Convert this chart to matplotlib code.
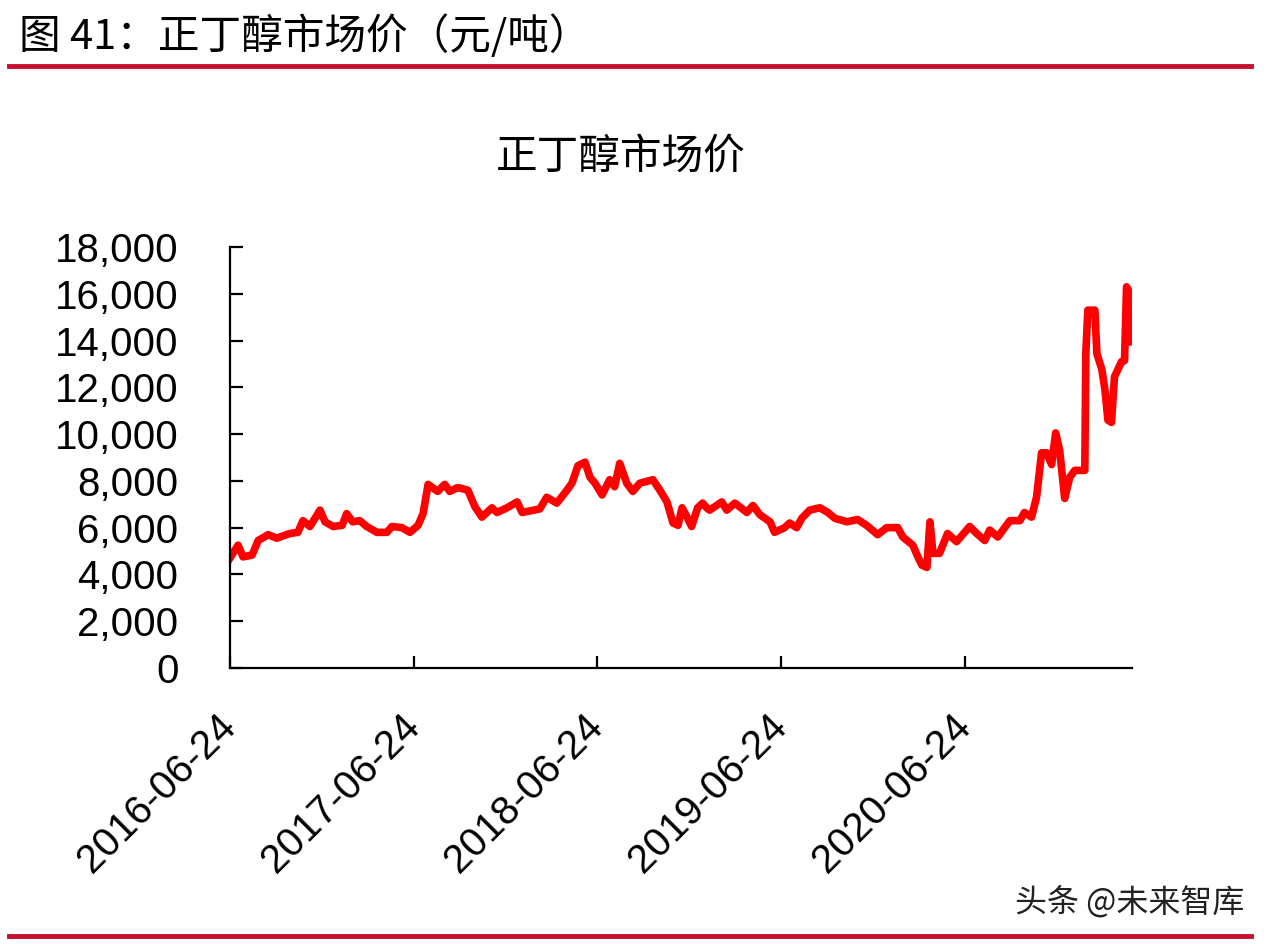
import matplotlib
matplotlib.use('Agg')
import matplotlib.pyplot as plt
import pandas as pd

# 正丁醇市场价 (元/吨)
dates = [
    '2016-06-24', '2016-07-10', '2016-07-20', '2016-08-07', '2016-08-19', '2016-09-08',
    '2016-09-25', '2016-10-21', '2016-11-06', '2016-11-16', '2016-11-30', '2016-12-20',
    '2016-12-30', '2017-01-15', '2017-02-02', '2017-02-11', '2017-02-23', '2017-03-09',
    '2017-03-23', '2017-04-12', '2017-05-02', '2017-05-12', '2017-06-01', '2017-06-17',
    '2017-07-03', '2017-07-13', '2017-07-23', '2017-08-11', '2017-08-25', '2017-09-04',
    '2017-09-18', '2017-09-24', '2017-10-10', '2017-10-24', '2017-11-07', '2017-11-27',
    '2017-12-07', '2017-12-27', '2018-01-16', '2018-01-26', '2018-03-02', '2018-03-16',
    '2018-04-05', '2018-04-25', '2018-05-05', '2018-05-17', '2018-05-31', '2018-06-10',
    '2018-06-20', '2018-07-04', '2018-07-19', '2018-07-29', '2018-08-08', '2018-08-22',
    '2018-09-03', '2018-09-17', '2018-10-13', '2018-10-27', '2018-11-10', '2018-11-22',
    '2018-12-02', '2018-12-10', '2018-12-20', '2018-12-29', '2019-01-10', '2019-01-20',
    '2019-01-28', '2019-02-03', '2019-02-27', '2019-03-09', '2019-03-25', '2019-04-18',
    '2019-04-30', '2019-05-14', '2019-06-03', '2019-06-12', '2019-07-02', '2019-07-12',
    '2019-07-26', '2019-08-05', '2019-08-21', '2019-09-10', '2019-09-26', '2019-10-10',
    '2019-11-03', '2019-11-24', '2019-12-12', '2020-01-03', '2020-01-21', '2020-02-12',
    '2020-02-22', '2020-03-13', '2020-03-23', '2020-03-31', '2020-04-10', '2020-04-16',
    '2020-04-22', '2020-05-05', '2020-05-21', '2020-06-08', '2020-07-04', '2020-07-18',
    '2020-08-03', '2020-08-13', '2020-08-29', '2020-09-22', '2020-10-12', '2020-10-21',
    '2020-11-04', '2020-11-14', '2020-11-24', '2020-12-04', '2020-12-14', '2020-12-22',
    '2020-12-30', '2021-01-09', '2021-01-19', '2021-01-29', '2021-02-18', '2021-02-20',
    '2021-02-24', '2021-03-10', '2021-03-14', '2021-03-24', '2021-03-30', '2021-04-05',
    '2021-04-12', '2021-04-18', '2021-05-02', '2021-05-08', '2021-05-12', '2021-05-18',
    '2021-05-22',
]
prices = [
    4700, 5250, 4750, 4830, 5450, 5700,
    5550, 5750, 5800, 6300, 6050, 6750,
    6250, 6050, 6100, 6600, 6250, 6300,
    6050, 5800, 5800, 6050, 6000, 5800,
    6100, 6600, 7850, 7550, 7850, 7550,
    7700, 7700, 7600, 6900, 6450, 6850,
    6650, 6850, 7100, 6650, 6800, 7300,
    7050, 7600, 7900, 8650, 8800, 8150,
    7900, 7400, 8050, 7750, 8750, 7900,
    7550, 7900, 8050, 7600, 7100, 6200,
    6100, 6850, 6450, 6050, 6850, 7050,
    6850, 6750, 7100, 6750, 7050, 6650,
    6950, 6550, 6250, 5800, 6000, 6200,
    6000, 6400, 6750, 6850, 6650, 6400,
    6250, 6350, 6100, 5700, 6000, 6000,
    5600, 5250, 4750, 4400, 4300, 6250,
    4900, 4900, 5750, 5400, 6050, 5750,
    5450, 5900, 5600, 6300, 6300, 6650,
    6450, 7300, 9200, 9200, 8700, 10050,
    9300, 7250, 8150, 8450, 8450, 13450,
    15300, 15300, 13450, 12750, 11900, 10600,
    10500, 12450, 13100, 13150, 16300, 16050,
    13950,
]
tick_dates = ['2016-06-24', '2017-06-24', '2018-06-24', '2019-06-24', '2020-06-24']
y_ticks = [0, 2000, 4000, 6000, 8000, 10000, 12000, 14000, 16000, 18000]

cjk = ['Noto Sans CJK SC', 'DejaVu Sans']
num_font = ['Liberation Sans', 'DejaVu Sans']

x = pd.to_datetime(dates)
xt = pd.to_datetime(tick_dates)

fig = plt.figure(figsize=(12.7, 9.44), dpi=100)
ax = fig.add_axes([0.1811, 0.2924, 0.891 - 0.1811, 0.7383 - 0.2924])

ax.plot(x, prices, color='#ff0000', linewidth=5.5, solid_joinstyle='round')

ax.set_xlim(xt[0], x[-1])
ax.set_ylim(0, 18000)
ax.set_yticks(y_ticks)
ax.set_yticklabels([f'{v:,}' for v in y_ticks], fontfamily=num_font, fontsize=29)
ax.set_xticks(xt)
ax.set_xticklabels(tick_dates, fontfamily=num_font, fontsize=29,
                   rotation=45, ha='right', va='center', rotation_mode='anchor')

for side in ['top', 'right']:
    ax.spines[side].set_visible(False)
for side in ['left', 'bottom']:
    ax.spines[side].set_linewidth(1.6)
ax.tick_params(axis='both', direction='in', length=9, width=1.6)
ax.tick_params(axis='y', pad=37)
ax.tick_params(axis='x', pad=38)

# chart title
fig.text(0.489, 0.834, '正丁醇市场价', fontfamily=cjk, fontsize=30,
         ha='center', va='center')

# header and footer
fig.text(0.015, 0.962, '图 41：正丁醇市场价（元/吨）', fontfamily=cjk, fontsize=30,
         va='center', ha='left')
fig.add_artist(plt.Line2D([0.007, 0.985], [0.930, 0.930], color='#c8102e', linewidth=3.5))
fig.add_artist(plt.Line2D([0.007, 0.985], [0.008, 0.008], color='#c8102e', linewidth=3.5))
fig.text(0.98, 0.044, '头条 @未来智库', fontfamily=cjk, fontsize=23,
         color='#222222', va='center', ha='right')

fig.savefig('out.png', dpi=100, facecolor='white')
